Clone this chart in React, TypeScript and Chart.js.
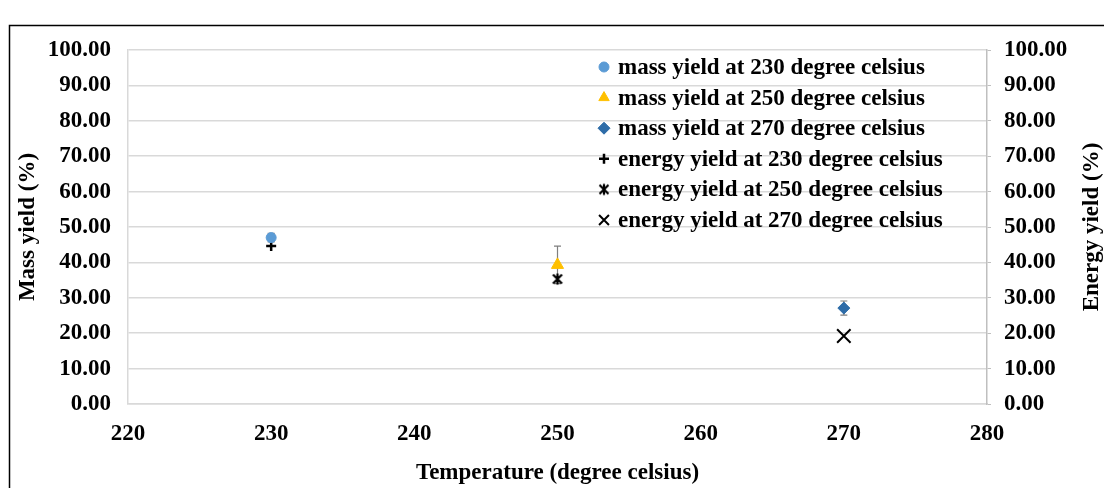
import React, { useEffect, useRef } from 'react';
import { Chart, registerables } from 'chart.js';
import { drawPoint } from 'chart.js/helpers';

Chart.register(...registerables);

// ---- data ----
const temperatures = [230, 250, 270];
const massYield = [47.0, 39.3, 27.1];
const massYieldError = [1.2, 5.3, 2.0];
const energyYield = [44.6, 35.3, 19.2];
const massLabels = [
  'mass yield at 230 degree celsius',
  'mass yield at 250 degree celsius',
  'mass yield at 270 degree celsius',
];
const energyLabels = [
  'energy yield at 230 degree celsius',
  'energy yield at 250 degree celsius',
  'energy yield at 270 degree celsius',
];
const xMin = 220;
const xMax = 280;
const xStep = 10;
const yMin = 0;
const yMax = 100;
const yStep = 10;
const xTitle = 'Temperature (degree celsius)';
const yTitle = 'Mass yield (%)';
const y2Title = 'Energy yield (%)';

const FONT = "'Liberation Serif', 'Times New Roman', serif";
const FS = 23;

function makeStarMarker(): HTMLCanvasElement {
  const c = document.createElement('canvas');
  c.width = 14;
  c.height = 14;
  const g = c.getContext('2d')!;
  g.strokeStyle = '#000';
  g.lineWidth = 2.2;
  g.beginPath();
  g.moveTo(2.5, 2.5); g.lineTo(11.5, 11.5);
  g.moveTo(11.5, 2.5); g.lineTo(2.5, 11.5);
  g.moveTo(7, 1.5); g.lineTo(7, 12.5);
  g.stroke();
  return c;
}

export default function App() {
  const ref = useRef<HTMLCanvasElement>(null);

  useEffect(() => {
    document.body.style.margin = '0';
    const star = makeStarMarker();
    const massColors = ['#5B9BD5', '#FFC000', '#2E6CA8'];
    const massStyles: any[] = ['circle', 'triangle', 'rectRot'];
    const massRadius = [5, 7, 6];
    const energyStyles: any[] = ['cross', star, 'crossRot'];
    const energyRadius = [5, 7, 9.5];

    const datasets: any[] = [];
    temperatures.forEach((t, i) => {
      datasets.push({
        label: massLabels[i],
        data: [{ x: t, y: massYield[i] }],
        yAxisID: 'y',
        pointStyle: massStyles[i],
        pointRadius: massRadius[i],
        backgroundColor: massColors[i],
        borderColor: massColors[i],
        borderWidth: 1,
        errorValues: [massYieldError[i]],
      });
    });
    temperatures.forEach((t, i) => {
      datasets.push({
        label: energyLabels[i],
        data: [{ x: t, y: energyYield[i] }],
        yAxisID: 'y2',
        pointStyle: energyStyles[i],
        pointRadius: energyRadius[i],
        backgroundColor: '#000',
        borderColor: '#000',
        borderWidth: i === 2 ? 2 : 2.5,
      });
    });

    const framePlugin = {
      id: 'frame',
      beforeDraw(chart: any) {
        const ctx = chart.ctx;
        ctx.save();
        ctx.strokeStyle = '#000';
        ctx.lineWidth = 1.5;
        ctx.beginPath();
        ctx.moveTo(9.5, 488);
        ctx.lineTo(9.5, 25.5);
        ctx.lineTo(1104, 25.5);
        ctx.stroke();
        ctx.restore();
      },
    };

    const errorBarPlugin = {
      id: 'errorBars',
      beforeDatasetsDraw(chart: any) {
        const ctx = chart.ctx;
        ctx.save();
        ctx.strokeStyle = '#7f7f7f';
        ctx.lineWidth = 1.2;
        chart.data.datasets.forEach((ds: any) => {
          if (!ds.errorValues) return;
          const ys = chart.scales[ds.yAxisID];
          const xs = chart.scales.x;
          ds.data.forEach((p: any, j: number) => {
            const e = ds.errorValues[j];
            const px = xs.getPixelForValue(p.x);
            const top = ys.getPixelForValue(p.y + e);
            const bot = ys.getPixelForValue(p.y - e);
            ctx.beginPath();
            ctx.moveTo(px, top); ctx.lineTo(px, bot);
            ctx.moveTo(px - 3.5, top); ctx.lineTo(px + 3.5, top);
            ctx.moveTo(px - 3.5, bot); ctx.lineTo(px + 3.5, bot);
            ctx.stroke();
          });
        });
        ctx.restore();
      },
    };

    const legendPlugin = {
      id: 'insideLegend',
      afterDraw(chart: any) {
        const ctx = chart.ctx;
        ctx.save();
        const x0 = 604;
        const y0 = 67;
        const dy = 30.6;
        chart.data.datasets.forEach((ds: any, i: number) => {
          const y = y0 + i * dy;
          ctx.fillStyle = ds.backgroundColor;
          ctx.strokeStyle = ds.borderColor;
          ctx.lineWidth = ds.borderWidth;
          const r = Math.min(ds.pointRadius, 6);
          drawPoint(ctx, { pointStyle: ds.pointStyle, rotation: 0, radius: ds.pointStyle === 'crossRot' ? 7 : r, borderWidth: ds.borderWidth }, x0, y);
          ctx.fillStyle = '#000';
          ctx.font = `bold ${FS}px ${FONT}`;
          ctx.textAlign = 'left';
          ctx.textBaseline = 'middle';
          ctx.fillText(ds.label, x0 + 14, y + 1);
        });
        // right axis title, reading bottom to top
        const a = chart.chartArea;
        ctx.translate(1092, (a.top + a.bottom) / 2);
        ctx.rotate(-Math.PI / 2);
        ctx.textAlign = 'center';
        ctx.textBaseline = 'middle';
        ctx.font = `bold ${FS}px ${FONT}`;
        ctx.fillStyle = '#000';
        ctx.fillText(y2Title, 0, 0);
        ctx.restore();
      },
    };

    const tickFont = { family: FONT, size: FS, weight: 'bold' as const };

    const chart = new Chart(ref.current!, {
      type: 'scatter',
      data: { datasets },
      options: {
        animation: false,
        responsive: false,
        layout: { padding: { top: 50, left: 0, right: 0, bottom: 0 } },
        plugins: {
          legend: { display: false },
          tooltip: { enabled: false },
        },
        scales: {
          x: {
            type: 'linear',
            position: 'bottom',
            min: xMin,
            max: xMax,
            ticks: { stepSize: xStep, color: '#000', font: tickFont, padding: 16 },
            grid: { display: false, drawTicks: false },
            border: { display: true, color: '#d9d9d9', width: 1.5 },
            title: { display: true, text: xTitle, color: '#000', font: tickFont, padding: { top: 0, bottom: 1 } },
            afterFit: (s: any) => { s.height = 84; },
          },
          y: {
            type: 'linear',
            position: 'left',
            min: yMin,
            max: yMax,
            ticks: { stepSize: yStep, color: '#000', font: tickFont, padding: 17, callback: (v: any) => Number(v).toFixed(2) },
            grid: { color: '#d9d9d9', lineWidth: 1.5, drawTicks: false },
            border: { display: true, color: '#d9d9d9', width: 1.5 },
            title: { display: true, text: yTitle, color: '#000', font: tickFont, padding: { top: 14, bottom: 0 } },
            afterFit: (s: any) => { s.width = 128; },
          },
          y2: {
            type: 'linear',
            position: 'right',
            min: yMin,
            max: yMax,
            ticks: { stepSize: yStep, color: '#000', font: tickFont, padding: 13, callback: (v: any) => Number(v).toFixed(2) },
            grid: { drawOnChartArea: false, drawTicks: true, tickLength: 4, color: '#bfbfbf' },
            border: { display: true, color: '#bfbfbf', width: 1.5 },
            afterFit: (s: any) => { s.width = 117; },
          },
        },
      },
      plugins: [framePlugin, errorBarPlugin, legendPlugin],
    } as any);

    return () => chart.destroy();
  }, []);

  return (
    <div style={{ width: 1104, height: 488, position: 'relative', background: '#fff' }}>
      <canvas ref={ref} width={1104} height={488} />
    </div>
  );
}
